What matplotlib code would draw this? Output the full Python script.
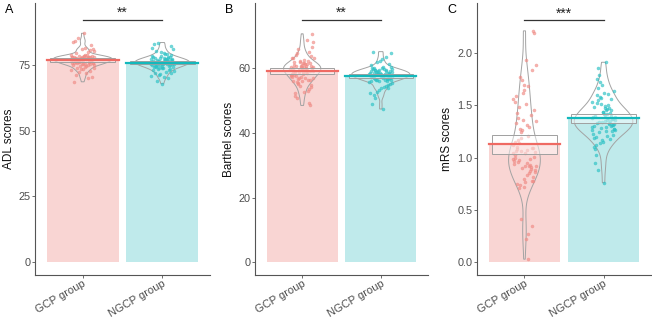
import numpy as np
import matplotlib
matplotlib.use("Agg")
from matplotlib import pyplot as plt
from matplotlib.patches import Rectangle

plt.rcParams['font.family'] = ['Liberation Sans', 'DejaVu Sans']

groups = ["GCP group", "NGCP group"]

adl_gcp = [76.8, 77.2, 75.9, 76.4, 78.1, 74.8, 77.8, 76.1, 75.5, 78.4, 77.5, 75.3, 76.8, 77.9, 74.6, 77.1,
           78.2, 76.6, 75.7, 77.9, 76.2, 74.9, 78.7, 77.4, 76.9, 75.1, 78.1, 77.6, 76.3, 75.5, 78.4, 77.0,
           76.0, 74.4, 78.8, 77.3, 75.8, 76.7, 77.7, 76.5, 74.9, 78.3, 77.9, 75.2, 76.4, 78.0, 77.4, 75.6,
           78.6, 76.8, 77.2, 75.4, 78.1, 76.2, 77.0,
           80.2, 81.4, 79.6, 82.3, 80.8, 83.6, 79.9, 85.2, 81.0, 86.9, 84.1, 80.5,
           73.5, 72.9, 71.8, 73.9, 70.4, 73.2, 68.5, 69.8, 72.3, 73.7, 74.0, 71.2, 72.6]
adl_ngcp = [75.8, 77.2, 74.5, 76.9, 73.8, 78.4, 75.1, 76.3, 74.0, 77.6, 75.5, 76.0, 74.7, 75.9, 77.0, 76.6,
            75.3, 74.2, 77.8, 76.4, 73.6, 75.7, 76.2, 77.4, 74.9, 78.2, 75.0, 76.8, 75.6, 77.1, 73.9, 76.1,
            74.4, 77.5, 75.2, 76.7, 74.1, 78.5, 75.4, 76.5, 77.9, 73.4, 75.8, 76.3, 74.6, 78.0, 75.9, 77.3,
            76.0, 74.8, 76.9, 75.3, 74.3, 77.7, 76.4, 75.1,
            79.2, 80.3, 82.1, 79.7, 81.2, 79.0, 83.4, 80.8, 79.5, 82.9,
            72.8, 71.5, 70.6, 72.4, 68.9, 72.0, 67.8, 73.0, 69.9, 71.0, 72.6, 70.2, 71.8, 73.2]

barthel_gcp = [59.5, 61.2, 57.4, 63.8, 55.9, 60.1, 58.3, 65.7, 56.8, 62.4, 59.0, 53.6, 61.9, 57.9, 60.7, 64.5,
               54.8, 59.8, 62.9, 56.2, 58.7, 67.9, 60.4, 52.1, 61.5, 57.1, 63.1, 59.2, 55.3, 66.4, 58.0, 60.9,
               49.2, 62.1, 57.6, 59.6, 64.0, 54.2, 61.0, 58.5, 68.6, 56.5, 60.3, 61.5, 51.3, 59.1, 60.7, 57.3,
               60.0, 55.6, 70.5, 58.8, 61.7, 53.0, 59.4, 63.1, 56.9, 60.6, 48.4, 60.2, 58.1, 61.3, 55.0, 59.9,
               61.4, 57.7, 64.9, 54.5, 60.2, 58.6, 50.6, 60.6, 59.3, 56.0, 62.2, 57.0, 59.1, 52.7, 58.8, 56.4]
barthel_ngcp = [58.2, 59.5, 56.7, 58.0, 57.9, 55.9, 59.2, 58.8, 56.4, 59.9, 57.2, 58.5, 56.0, 58.3, 57.7, 59.2,
                56.9, 58.0, 57.5, 55.8, 58.9, 59.6, 57.0, 56.9, 58.3, 57.8, 59.1, 56.2, 58.6, 60.2, 57.3, 59.7,
                56.6, 58.1, 55.6, 57.6, 59.3, 56.8, 58.4, 57.1, 59.0, 56.3, 58.7, 57.4, 60.1, 56.5, 59.4, 57.9,
                58.2, 56.1, 58.9, 57.6, 59.8, 56.8, 58.0, 57.3, 60.4, 58.5,
                61.2, 62.1, 60.8, 63.4, 61.7, 64.6, 62.8, 65.0,
                54.6, 53.3, 52.1, 54.0, 50.8, 55.1, 53.7, 48.9, 54.3, 52.7, 55.2, 47.3, 51.5, 53.9]

mrs_gcp = [1.12, 0.95, 1.38, 0.78, 1.65, 1.02, 0.92, 1.27, 0.88, 1.51, 1.08, 0.35, 1.74, 0.99, 1.21, 0.71,
           1.45, 0.92, 1.33, 0.87, 1.06, 1.88, 0.83, 1.17, 0.78, 1.62, 0.97, 1.29, 0.74, 2.19, 1.04, 1.06,
           1.41, 0.90, 1.56, 0.27, 1.14, 0.81, 1.69, 1.00, 0.99, 1.24, 0.86, 1.93, 1.10, 1.09, 1.36, 0.94,
           0.03, 1.48, 1.01, 0.77, 1.59, 0.89, 1.19, 0.92, 1.31, 0.96, 2.21, 0.72, 1.15, 0.85, 1.77, 1.05,
           0.22, 1.43, 0.91, 1.26, 1.04, 1.68, 0.98, 1.09, 0.80, 1.53, 0.93, 0.41, 1.35, 1.07, 0.75, 1.84]
mrs_ngcp = [1.38, 1.25, 1.52, 1.31, 1.44, 1.19, 1.61, 1.34, 1.27, 1.47, 1.12, 1.40, 1.69, 1.29, 1.36, 1.55,
            1.22, 1.42, 1.08, 1.33, 1.58, 1.26, 1.45, 1.75, 1.30, 1.17, 1.39, 1.50, 1.24, 1.64, 1.35, 0.95,
            1.43, 1.28, 1.53, 1.21, 1.86, 1.37, 1.15, 1.48, 1.32, 1.72, 1.27, 1.41, 1.02, 1.56, 1.34, 1.23,
            1.46, 1.66, 1.31, 0.76, 1.40, 1.18, 1.51, 1.36, 1.29, 1.60, 1.25, 1.44, 1.10, 1.38, 1.79, 1.32,
            1.49, 1.20, 1.35, 1.57, 1.26, 1.42, 0.88, 1.37, 1.62, 1.30, 1.47, 1.14, 1.39, 1.91, 1.33, 1.45]

panel_labels = ["A", "B", "C"]
y_labels = ["ADL scores", "Barthel scores", "mRS scores"]
signif = ["**", "**", "***"]

line_cols = ["#EF6A63", "#13B8BC"]
bar_cols = ["#F9D5D3", "#BFEAEB"]
pt_cols = ["#F08C86", "#2EC2C6"]


def kde(vals, grid):
    # gaussian density, R's nrd0 bandwidth (like ggplot's geom_violin)
    n = len(vals)
    sd = vals.std(ddof=1)
    iqr = np.subtract(*np.percentile(vals, [75, 25]))
    bw = 0.9 * min(sd, iqr / 1.34) * n ** -0.2
    z = (grid[:, None] - vals[None, :]) / bw
    return np.exp(-0.5 * z ** 2).sum(axis=1) / (n * bw * np.sqrt(2 * np.pi))


fig = plt.figure(figsize=(6.52, 3.22), dpi=100)
boxes = [(35, 210), (255, 428), (477, 651)]
ylab_x = [15, 235, 453]
ylims = [(-4.8, 98.4), (-3.9, 80.0), (-0.121, 2.476)]
yticks = [[0, 25, 50, 75], [0, 20, 40, 60], [0.0, 0.5, 1.0, 1.5, 2.0]]
ytlabels = [["0", "25", "50", "75"], ["0", "20", "40", "60"], ["0.0", "0.5", "1.0", "1.5", "2.0"]]
bracket_y = [91.9, 74.7, 2.31]
datasets = [(adl_gcp, adl_ngcp), (barthel_gcp, barthel_ngcp), (mrs_gcp, mrs_ngcp)]

for k in range(3):
    l, r = boxes[k]
    ax = fig.add_axes([l / 652, 47 / 322, (r - l) / 652, 272 / 322])
    data = [np.array(v) for v in datasets[k]]
    grids = [np.linspace(v.min(), v.max(), 256) for v in data]
    dens = [kde(v, g) for v, g in zip(data, grids)]
    sc = 0.37 / max(d.max() for d in dens)
    for i, vals in enumerate(data):
        pos = i + 1
        m = vals.mean()
        se = vals.std(ddof=1) / np.sqrt(len(vals))
        ax.bar(pos, m, width=0.9, color=bar_cols[i], zorder=1)
        g, d = grids[i], dens[i] * sc
        vx = np.concatenate([pos - d, (pos + d)[::-1]])
        vy = np.concatenate([g, g[::-1]])
        ax.fill(vx, vy, facecolor='none', edgecolor='#a3a3a3', linewidth=0.7, zorder=2)
        # deterministic jitter
        idx = np.arange(len(vals))
        jit = ((idx * 0.6180339) % 1 - 0.5) * 0.3
        ax.scatter(pos + jit, vals, s=5, color=pt_cols[i], alpha=0.65,
                   linewidths=0.3, edgecolors=pt_cols[i], zorder=3)
        ax.add_patch(Rectangle((pos - 0.41, m - 1.96 * se), 0.82, 2 * 1.96 * se,
                               facecolor='white', alpha=0.45, edgecolor='none', zorder=4))
        ax.add_patch(Rectangle((pos - 0.41, m - 1.96 * se), 0.82, 2 * 1.96 * se,
                               facecolor='none', edgecolor='#a0a0a0', linewidth=0.7, zorder=4))
        ax.plot([pos - 0.45, pos + 0.45], [m, m], color=line_cols[i], lw=1.6, zorder=5)

    by = bracket_y[k]
    ax.plot([1, 2], [by, by], color='#333333', lw=0.9)
    ax.text(1.5, by, signif[k], ha='center', va='bottom', fontsize=10, color='#222222')

    ax.set_xlim(0.4, 2.6)
    ax.set_ylim(*ylims[k])
    ax.set_yticks(yticks[k])
    ax.set_yticklabels(ytlabels[k])
    ax.set_xticks([1, 2])
    ax.set_xticklabels(groups, rotation=30, ha='right', rotation_mode='anchor')
    ax.tick_params(colors='#555555', labelsize=7.8, length=2.2, width=0.6, pad=1.2)
    ax.tick_params(axis='x', pad=0.5, labelsize=8)
    for t in ax.get_xticklabels() + ax.get_yticklabels():
        t.set_color('#4d4d4d')
    ax.set_ylabel(y_labels[k], fontsize=8.5, color='#111111')
    ax.yaxis.set_label_coords((ylab_x[k] - l) / (r - l), 0.5)
    for s in ['top', 'right']:
        ax.spines[s].set_visible(False)
    for s in ['left', 'bottom']:
        ax.spines[s].set_color('#555555')
        ax.spines[s].set_linewidth(0.8)
    fig.text((l - 30) / 652, 1 - 10 / 322, panel_labels[k], fontsize=9, va='center', ha='left')

fig.savefig("out.png", dpi=100)
